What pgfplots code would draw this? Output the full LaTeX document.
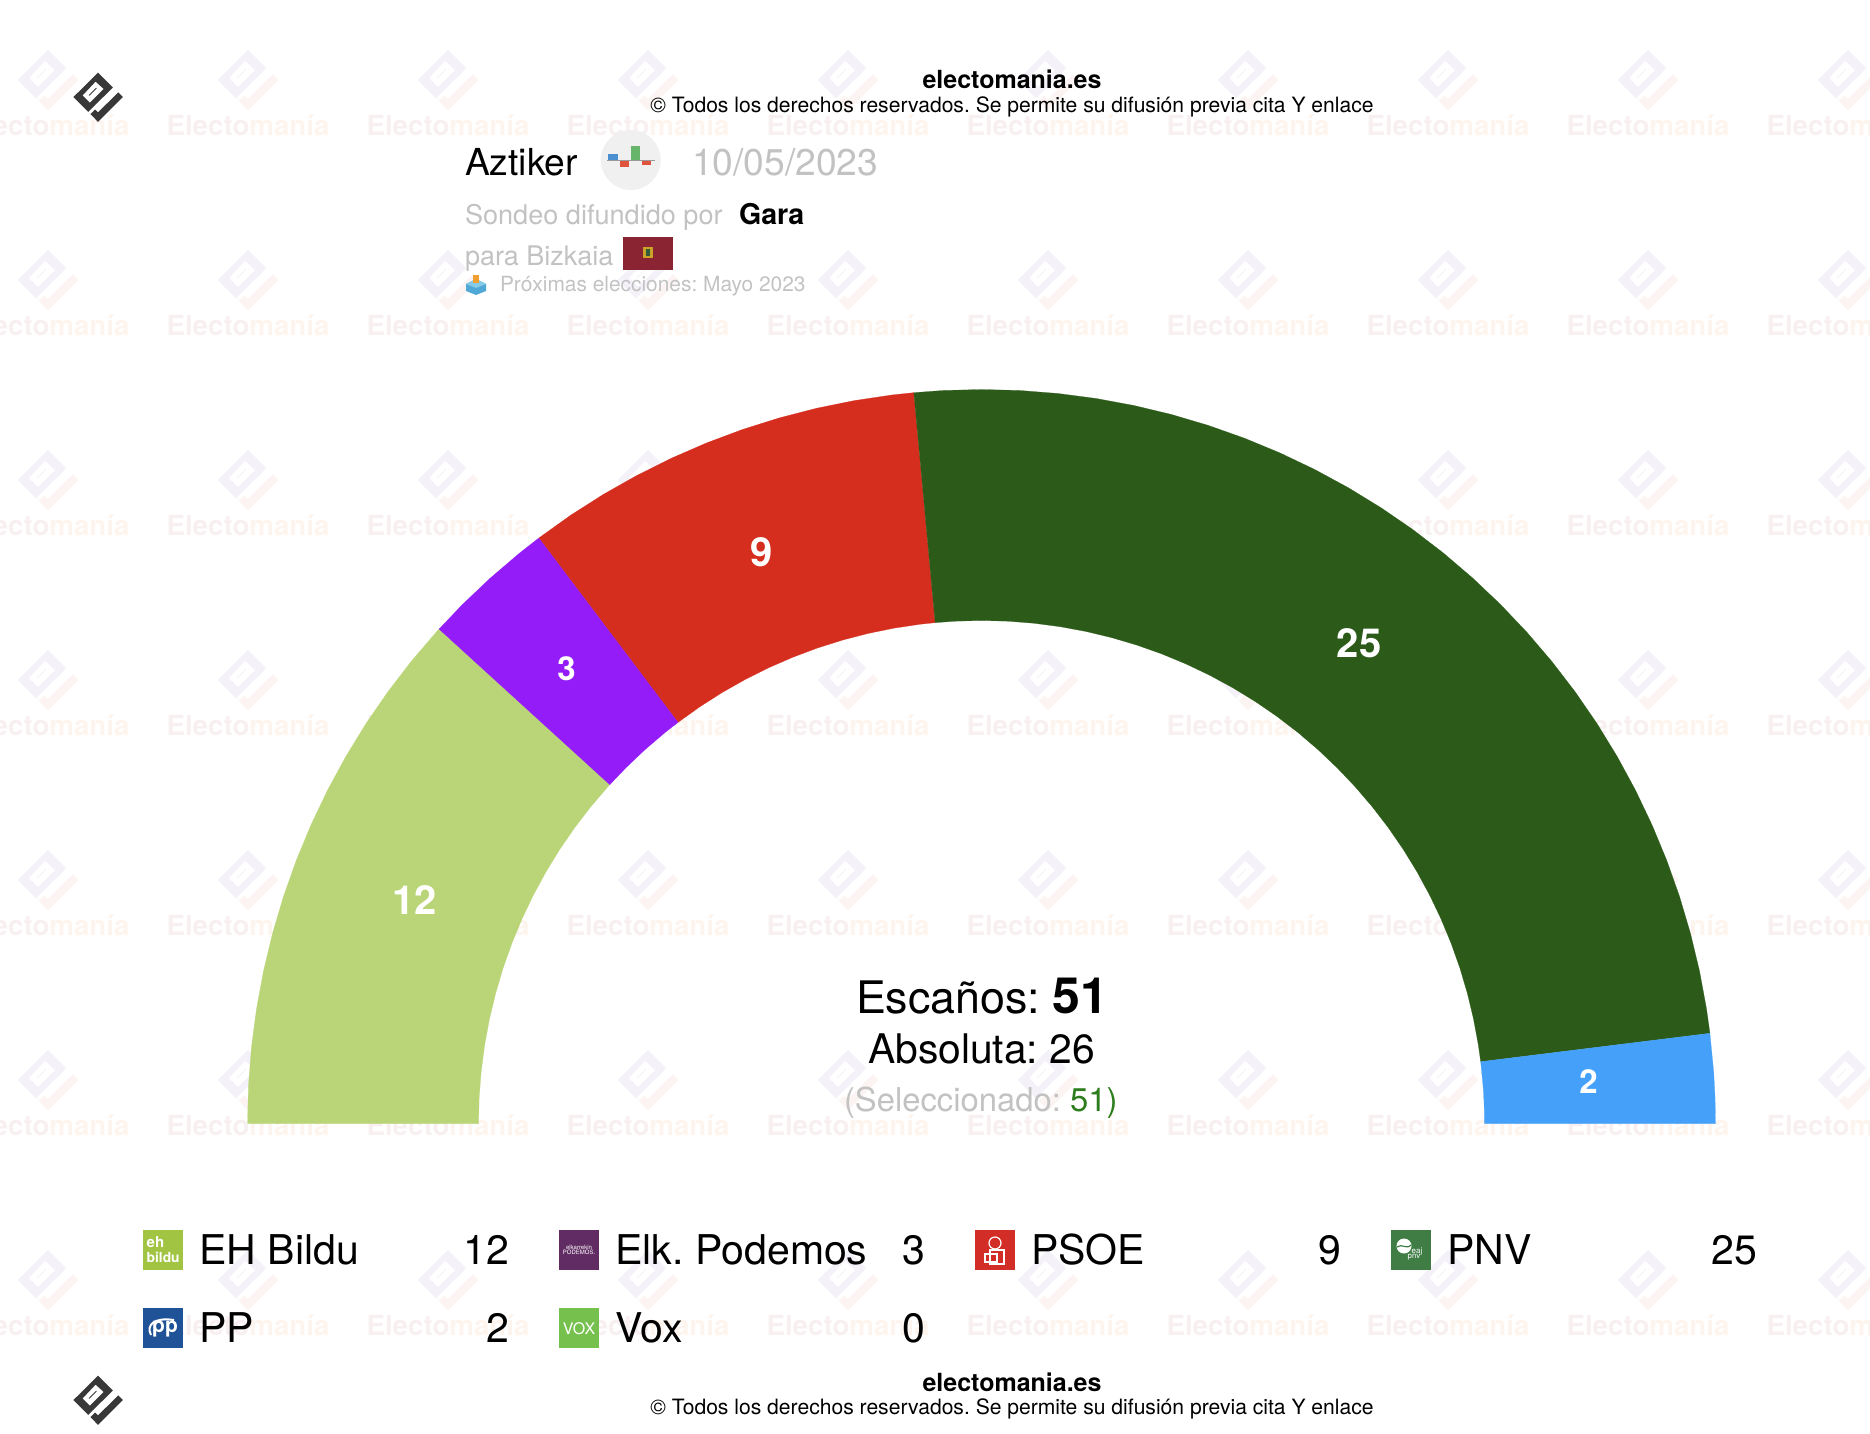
\documentclass[border=0pt]{standalone}
\usepackage{pgfplots}
\pgfplotsset{compat=1.18}
\usepackage{fontspec}
\setmainfont{TeX Gyre Heros}
\frenchspacing
\definecolor{cbildu}{HTML}{B9D577}
\definecolor{cpod}{HTML}{931CF9}
\definecolor{cpsoe}{HTML}{D52E1F}
\definecolor{cpnv}{HTML}{2C5B19}
\definecolor{cpp}{HTML}{45A0FA}
\definecolor{gtext}{HTML}{C2C2C2}
\definecolor{wmA}{HTML}{F8F0F0}
\definecolor{wmB}{HTML}{FEF4EE}
\definecolor{wmC}{HTML}{F5F1F8}
\definecolor{wmD}{HTML}{FBF4F2}
\definecolor{ibl}{HTML}{4A90D0}
\definecolor{ird}{HTML}{E0533D}
\definecolor{igr}{HTML}{66B56B}
\definecolor{flag}{HTML}{8A2432}
\definecolor{crA}{HTML}{C9A227}
\definecolor{crB}{HTML}{2F5D3A}
\definecolor{boxA}{HTML}{4FA8D5}
\definecolor{boxB}{HTML}{85CBE8}
\definecolor{boxC}{HTML}{F0A030}
\definecolor{sel}{HTML}{2D7D1E}
\definecolor{lgA}{HTML}{A2C443}
\definecolor{lgB}{HTML}{612C63}
\definecolor{lgC}{HTML}{D32D27}
\definecolor{lgD}{HTML}{3F7D45}
\definecolor{lgE}{HTML}{1F5296}
\definecolor{lgF}{HTML}{76C04E}
\newcommand\F[1]{\fontsize{#1}{#1}\selectfont}
\newcommand\logo[5]{%
\begin{scope}[shift={(#1,#2)},scale=#3]
\fill[#4,even odd rule] (-30.3,0)--(0,-30)--(18.3,-11.7)--(-12,18.3)--cycle
 (-19,-2)--(-3,-19)--(7,-10)--(-10,7)--cycle;
\draw[#4,line width=0.5pt] (-11,-2)--(-2,-11);
\fill[#5] (25,-5.7)--(30.7,0)--(0,30.7)--(-9.3,21)--(-3.5,15.5)--(0,19)--cycle;
\end{scope}}
\tikzset{t/.style={anchor=base west,inner sep=0pt,outer sep=0pt},
 r/.style={anchor=base east,inner sep=0pt,outer sep=0pt},
 c/.style={anchor=base,inner sep=0pt,outer sep=0pt},
 m/.style={anchor=center,inner sep=0pt,outer sep=0pt}}
\begin{document}
\begin{tikzpicture}
\path[use as bounding box,clip] (0pt,0pt) rectangle (935pt,-717pt);
\begin{scope}[x=0.5pt,y=-0.5pt]
\foreach \yy in {125,325,525,725,925,1125,1325}{
 \foreach \xx in {48,248,448,648,848,1048,1248,1448,1648,1848}{
  \pgfmathsetmacro\ly{\yy-45}
  \logo{\xx}{\ly}{1}{wmC}{wmD}
  \node[m] at (\xx,\yy) {\F{13.85}\bfseries\textcolor{wmA}{Electo}\textcolor{wmB}{manía}};
 }}
\end{scope}
\begin{axis}[at={(0pt,-717pt)},anchor=south west,scale only axis,width=935pt,height=717pt,
 xmin=-981.5,xmax=888.5,ymin=-310.5,ymax=1123.5,hide axis,clip=false]
\addplot[fill=cbildu,draw=cbildu,line width=0.1pt,data cs=polar] coordinates {
(180,734)(177,734)(174,734)(171,734)(168,734)(165,734)(162,734)(159,734)(156,734)(153,734)(150,734)(147,734)(144,734)(141,734)(138,734)(137.65,734)
(137.65,503)(138,503)(141,503)(144,503)(147,503)(150,503)(153,503)(156,503)(159,503)(162,503)(165,503)(168,503)(171,503)(174,503)(177,503)(180,503)} --cycle;
\addplot[fill=cpod,draw=cpod,line width=0.1pt,data cs=polar] coordinates {
(137.65,734)(135,734)(132,734)(129,734)(127.06,734)
(127.06,503)(129,503)(132,503)(135,503)(137.65,503)} --cycle;
\addplot[fill=cpsoe,draw=cpsoe,line width=0.1pt,data cs=polar] coordinates {
(127.06,734)(124,734)(121,734)(118,734)(115,734)(112,734)(109,734)(106,734)(103,734)(100,734)(97,734)(95.29,734)
(95.29,503)(97,503)(100,503)(103,503)(106,503)(109,503)(112,503)(115,503)(118,503)(121,503)(124,503)(127.06,503)} --cycle;
\addplot[fill=cpnv,draw=cpnv,line width=0.1pt,data cs=polar] coordinates {
(95.29,734)(93,734)(90,734)(87,734)(84,734)(81,734)(78,734)(75,734)(72,734)(69,734)(66,734)(63,734)(60,734)(57,734)(54,734)(51,734)(48,734)(45,734)(42,734)(39,734)(36,734)(33,734)(30,734)(27,734)(24,734)(21,734)(18,734)(15,734)(12,734)(9,734)(7.06,734)
(7.06,503)(9,503)(12,503)(15,503)(18,503)(21,503)(24,503)(27,503)(30,503)(33,503)(36,503)(39,503)(42,503)(45,503)(48,503)(51,503)(54,503)(57,503)(60,503)(63,503)(66,503)(69,503)(72,503)(75,503)(78,503)(81,503)(84,503)(87,503)(90,503)(93,503)(95.29,503)} --cycle;
\addplot[fill=cpp,draw=cpp,line width=0.1pt,data cs=polar] coordinates {
(7.06,734)(4,734)(2,734)(0,734)
(0,503)(2,503)(4,503)(7.06,503)} --cycle;
\end{axis}
\begin{scope}[x=0.5pt,y=-0.5pt]
% seat labels
\node[m,white] at (414.5,900.5) {\F{20}\bfseries 12};
\node[m,white] at (566.5,668.5) {\F{16.5}\bfseries 3};
\node[m,white] at (762,552) {\F{20}\bfseries 9};
\node[m,white] at (1359,643.5) {\F{20}\bfseries 25};
\node[m,white] at (1588.5,1082) {\F{16.5}\bfseries 2};
% logos
\logo{98}{97}{0.81}{black!78}{black!78}
\logo{98}{1400}{0.81}{black!78}{black!78}
% credits
\node[c] at (1012,89) {\F{12.5}\bfseries electomania.es};
\node[c] at (1012,112.7) {\F{10.55}© Todos los derechos reservados. Se permite su difusión previa cita Y enlace};
\node[c] at (1012,1391) {\F{12.5}\bfseries electomania.es};
\node[c] at (1012,1414.7) {\F{10.55}© Todos los derechos reservados. Se permite su difusión previa cita Y enlace};
% header
\node[t] at (465,176) {\F{18.6}Aztiker};
\fill[black!6] (630.7,160) circle[radius=30];
\fill[ibl] (608,154) rectangle (618,160);
\fill[ird] (620,160) rectangle (629,167);
\fill[igr] (631,146.5) rectangle (640,160);
\fill[ird] (642,160) rectangle (651,165);
\draw[black!40,line width=0.3pt] (606.7,160)--(655,160);
\node[t,gtext] at (692,176) {\F{18.6}10/05/2023};
\node[t,gtext] at (465,225) {\F{13.55}Sondeo difundido por};
\node[t] at (739,225) {\F{14.3}\bfseries Gara};
\node[t,gtext] at (465,265.5) {\F{13.5}para Bizkaia};
\fill[flag] (623,236.7) rectangle (673,270);
\fill[crA] (642.5,246.5) rectangle (653,258);
\fill[crB] (645.5,249) rectangle (650,255.5);
% ballot box
\fill[boxA] (466,284)--(476,279)--(486,284)--(486,291)--(476,295)--(466,291)--cycle;
\fill[boxB] (466,284)--(476,279)--(486,284)--(476,288)--cycle;
\fill[boxC] (473,275)rectangle(479,283);
\node[t,gtext] at (500,291.5) {\F{10.45}Próximas elecciones: Mayo 2023};
% centre
\node[t] at (856,1013.7) {\F{22.4}Escaños: \F{25}\bfseries 51};
\node[t] at (868,1063) {\F{20.4}Absoluta: 26};
\node[t,gtext] at (844,1111) {\F{16.4}(Seleccionado: \textcolor{sel}{51)}};
% legend
\fill[lgA] (143,1230) rectangle (183,1270);
\node[t,white] at (146.7,1247) {\F{7.5}\bfseries eh};
\node[t,white] at (146.7,1262) {\F{6.9}\bfseries bildu};
\node[t] at (199.5,1264) {\F{20.5}EH Bildu};
\node[r] at (509,1264) {\F{20.5}12};
\fill[lgB] (559,1230) rectangle (599,1270);
\node[m,white] at (579,1247.5) {\F{3}elkarrekin};
\node[m,white] at (579,1252.5) {\F{3}PODEMOS.};
\node[t] at (615.5,1264) {\F{20.5}Elk. Podemos};
\node[r] at (925,1264) {\F{20.5}3};
\fill[lgC] (975,1230) rectangle (1015,1270);
\draw[white,line width=0.6pt] (995,1243) circle[radius=6];
\draw[white,line width=0.6pt] (990,1250) rectangle (1004,1264) (985,1254) rectangle (997,1262);
\node[t] at (1031,1264) {\F{20.5}PSOE};
\node[r] at (1341,1264) {\F{20.5}9};
\fill[lgD] (1391,1230) rectangle (1431,1270);
\fill[white] (1404,1246) circle[radius=7.5];
\draw[lgD,line width=0.6pt] (1397,1247) .. controls (1402,1243) and (1406,1250) .. (1411,1245);
\node[m,white] at (1417,1252) {\F{4}eaj};
\node[m,white] at (1414,1257.5) {\F{4}pnv};
\node[t] at (1447.5,1264) {\F{20.5}PNV};
\node[r] at (1757,1264) {\F{20.5}25};
\fill[lgE] (143,1308) rectangle (183,1348);
\draw[white,line width=1pt] (151,1335) .. controls (146,1325) and (154,1317) .. (174,1320);
\node[m,white] at (165,1329) {\F{10.5}\bfseries pp};
\node[t] at (199.5,1342) {\F{20.5}PP};
\node[r] at (509,1342) {\F{20.5}2};
\fill[lgF] (559,1308) rectangle (599,1348);
\node[m,white] at (579,1328.5) {\F{8}VOX};
\node[t] at (615.5,1342) {\F{20.5}Vox};
\node[r] at (925,1342) {\F{20.5}0};
\end{scope}
\end{tikzpicture}
\end{document}
